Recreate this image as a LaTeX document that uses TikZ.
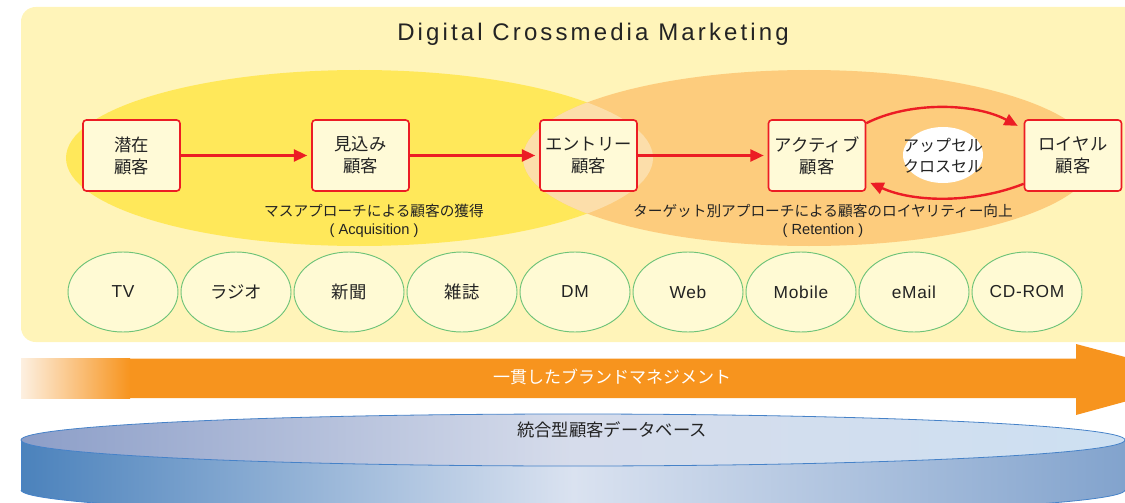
\documentclass[tikz,border=0pt]{standalone}
\usepackage{fontspec}
\setmainfont{Liberation Sans}
\newfontfamily\jp{Noto Sans CJK JP}
\newfontfamily\titlefont[LetterSpace=13]{Liberation Sans}
\newfontfamily\medfont[LetterSpace=4]{Liberation Sans}
\usetikzlibrary{arrows.meta,shapes.geometric}
\definecolor{panel}{RGB}{255,244,185}
\definecolor{ylw}{RGB}{255,232,90}
\definecolor{org}{RGB}{253,204,125}
\definecolor{lens}{RGB}{252,222,170}
\definecolor{boxfill}{RGB}{255,250,215}
\definecolor{boxred}{RGB}{236,28,36}
\definecolor{medfill}{RGB}{255,250,212}
\definecolor{medgreen}{RGB}{110,195,120}
\definecolor{band}{RGB}{247,148,30}
\definecolor{bandpale}{RGB}{253,240,225}
\definecolor{txt}{RGB}{35,35,35}
\definecolor{dbline}{RGB}{70,130,200}
\definecolor{dbL}{RGB}{75,130,188}
\definecolor{dbM}{RGB}{218,226,240}
\definecolor{dbR}{RGB}{130,163,205}
\definecolor{topL}{RGB}{140,158,200}
\definecolor{topM}{RGB}{214,220,235}
\definecolor{topR}{RGB}{205,224,242}
\begin{document}
\begin{tikzpicture}[x=0.75pt,y=-0.75pt,
  custbox/.style={draw=boxred, line width=1.2pt, fill=boxfill, rounded corners=2.5pt,
    minimum width=72.75pt, minimum height=53.25pt, inner sep=0pt, align=center,
    font=\jp\fontsize{13}{16.5}\selectfont, text=txt},
  redarr/.style={draw=boxred, line width=1.8pt, -{Triangle[length=10pt,width=9pt]}},
  media/.style={ellipse, draw=medgreen, line width=0.7pt, fill=medfill,
    minimum width=82.5pt, minimum height=60pt, inner sep=0pt, text=txt,
    font=\fontsize{13}{15}\selectfont},
  lbl/.style={align=center, text=txt, font=\fontsize{11}{13}\selectfont},
]
\useasboundingbox (0,0) rectangle (1125,503);
% panel
\fill[panel, rounded corners=11pt] (21,7) rectangle (1160,342);
\node[font=\titlefont\fontsize{18}{20}\selectfont, text=txt] (title) at (593,34) {Digital Crossmedia Marketing};
% ellipses
\fill[ylw] (359.5,158) ellipse [x radius=293.5, y radius=88];
\fill[org] (809,158) ellipse [x radius=286, y radius=88];
\begin{scope}
  \clip (359.5,158) ellipse [x radius=293.5, y radius=88];
  \fill[lens] (809,158) ellipse [x radius=286, y radius=88];
\end{scope}
\node[lbl] (acq) at (374,221) {{\jp マスアプローチによる顧客の獲得}\\( Acquisition )};
\node[lbl] (ret) at (823,221) {{\jp ターゲット別アプローチによる顧客のロイヤリティー向上}\\( Retention )};
% upsell
\fill[white] (943,155) ellipse [x radius=40, y radius=28];
\node[align=center, text=txt, font=\jp\fontsize{12}{15.75}\selectfont] (ucx) at (943,156) {アップセル\\クロスセル};
% boxes
\node[custbox] (b1) at (131.5,155.5) {潜在\\顧客};
\node[custbox] (b2) at (360.5,155.5) {見込み\\顧客};
\node[custbox] (b3) at (588.5,155.5) {エントリー\\顧客};
\node[custbox] (b4) at (817,155.5) {アクティブ\\顧客};
\node[custbox] (b5) at (1073,155.5) {ロイヤル\\顧客};
\draw[redarr] (b1.east) -- ([xshift=-3pt]b2.west);
\draw[redarr] (b2.east) -- ([xshift=-3pt]b3.west);
\draw[redarr] (b3.east) -- ([xshift=-3pt]b4.west);
\draw[redarr] ([yshift=-3pt]b4.north east) .. controls (910,101) and (975,103) .. ([xshift=-4.5pt,yshift=-5pt]b5.north west);
\draw[redarr] ([yshift=6pt]b5.south west) .. controls (975,203) and (915,203) .. ([xshift=3pt,yshift=6.75pt]b4.south east);
% media
\node[media] (m1) at (123,292) {\medfont TV};
\node[media] (m2) at (236,292) {\jp ラジオ};
\node[media] (m3) at (349,292) {\jp 新聞};
\node[media] (m4) at (462,292) {\jp 雑誌};
\node[media] (m5) at (575,292) {\medfont DM};
\node[media] (m6) at (688,292) {\medfont Web};
\node[media] (m7) at (801,292) {\medfont Mobile};
\node[media] (m8) at (914,292) {\medfont eMail};
\node[media] (m9) at (1027,292) {\medfont CD-ROM};
% brand band
\fill[band] (21,358.5) -- (1076,358.5) -- (1076,344) -- (1208,379) -- (1076,415) -- (1076,398) -- (21,398) -- cycle;
\shade[left color=bandpale, right color=band] (21,358.5) rectangle (130,398);
\node[text=white, font=\jp\fontsize{12.75}{15}\selectfont] (brand) at (612,377) {一貫したブランドマネジメント};
% database
\shade[left color=dbL, right color=dbR, middle color=dbM] (21,440) rectangle (1125,490);
\shade[left color=dbL, right color=dbR, middle color=dbM] (573,490) ellipse [x radius=552, y radius=26];
\draw[dbline, line width=0.6pt] (21,440) -- (21,490) (1125,440) -- (1125,490);
\begin{scope}
  \clip (0,490) rectangle (1125,560);
  \draw[dbline, line width=0.6pt] (573,490) ellipse [x radius=552, y radius=26];
\end{scope}
\path[draw=dbline, line width=0.6pt, left color=topL, right color=topR, middle color=topM] (573,440) ellipse [x radius=552, y radius=26];
\node[text=txt, font=\jp\fontsize{13}{15}\selectfont] (db) at (612,430) {統合型顧客データベース};
\end{tikzpicture}
\end{document}
